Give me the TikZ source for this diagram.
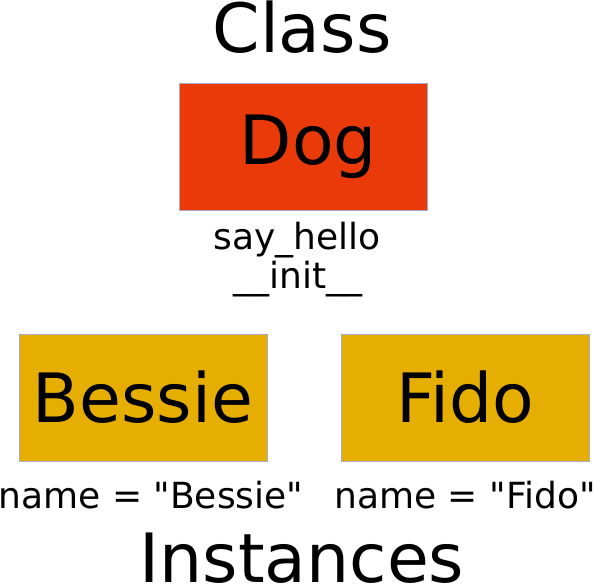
\documentclass[tikz,border=0pt]{standalone}
\usepackage{fontspec}
\setmainfont{DejaVu Sans}
\usetikzlibrary{positioning}
\definecolor{classred}{HTML}{EA3A0A}
\definecolor{instgold}{HTML}{E5AE00}
\definecolor{boxline}{HTML}{A8A8C8}
\tikzset{
        box/.style={draw=boxline, line width=0.8pt, minimum width=248pt, minimum height=127pt, inner sep=0pt, font=\fontsize{68}{80}\selectfont}, % common box look
        classbox/.style={box, fill=classred}, % the class
        instbox/.style={box, fill=instgold}, % the objects
        heading/.style={anchor=base, font=\fontsize{68}{80}\selectfont},
        member/.style={anchor=base, font=\fontsize{36}{40}\selectfont},
    }
\newcommand{\qt}{\textquotedbl}

\begin{document}
\begin{tikzpicture}[x=1pt, y=-1pt]
    \useasboundingbox (0,0) rectangle (594,584);
    % class part
    \node[heading] (class) at (302,52) {Class};
    \node[classbox] (dog) at (303,146.5) {\hspace*{11pt}Dog};
    \node[member] (hello) at (297,249) {say\_hello};
    \node[member] (init) at (298,288) {\_\_init\_\_};
    % instances part
    \node[instbox] (bessie) at (143,397.5) {Bessie};
    \node[instbox] (fido) at (465,397.5) {Fido};
    \node[member] (bname) at (151,508) {name = \qt Bessie\qt};
    \node[member] (fname) at (465,508) {name = \qt Fido\qt};
    \node[heading] (inst) at (302,582) {Instances};
  \end{tikzpicture}
\end{document}
